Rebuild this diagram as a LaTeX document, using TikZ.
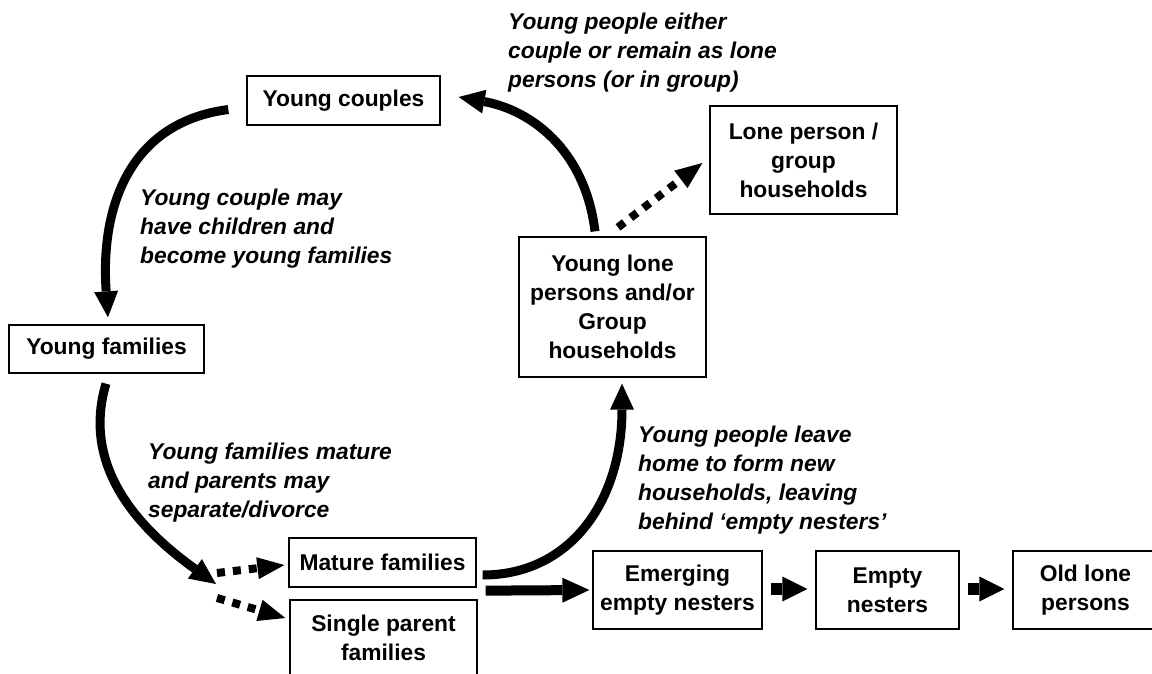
\documentclass[tikz,border=0pt]{standalone}
\usepackage{fontspec}
\setmainfont{Liberation Sans}
\usetikzlibrary{calc,arrows.meta}
\newcommand{\boxfont}{\bfseries\fontsize{22.8}{29}\selectfont}
\newcommand{\notefont}{\bfseries\itshape\fontsize{22.8}{29}\selectfont}

\begin{document}
\begin{tikzpicture}[x=1pt, y=-1pt,
  stage/.style={draw, line width=1.3pt, inner sep=0pt, align=center, font=\boxfont},
  note/.style={inner sep=0pt, align=left, anchor=west, font=\notefont},
  flow/.style={line width=9pt, -{Triangle[length=26pt,width=24pt,line width=0pt]}},
  maybe/.style={line width=8pt, dash pattern=on 8pt off 8pt, -{Triangle[length=27pt,width=22pt,line width=0pt]}},
  push/.style={line width=10pt, -{Triangle[length=27pt,width=25pt,line width=0pt]}},
  hop/.style={line width=12pt, -{Triangle[length=25pt,width=25pt,line width=0pt]}}]
\useasboundingbox (0,0) rectangle (1152,673);
\node[stage, minimum width=193pt, minimum height=49pt] (yc) at (343.5,100.5) {Young couples};
\node[stage, minimum width=187pt, minimum height=108pt] (lp) at (803.5,160) {Lone person /\\group\\households};
\node[stage, minimum width=187pt, minimum height=140pt] (yl) at (612.5,307) {Young lone\\persons and/or\\Group\\households};
\node[stage, minimum width=195pt, minimum height=48pt] (yf) at (106.5,349) {Young families};
\node[stage, minimum width=187pt, minimum height=49pt] (mf) at (382.5,562.5) {Mature families};
\node[stage, minimum width=187pt, minimum height=76pt] (sp) at (383.5,638) {Single parent\\families};
\node[stage, minimum width=169pt, minimum height=78pt] (ee) at (677.5,590) {Emerging\\empty nesters};
\node[stage, minimum width=143pt, minimum height=78pt] (en) at (887.5,590) {Empty\\nesters};
\node[stage, minimum width=145pt, minimum height=78pt] (ol) at (1085.5,590) {Old lone\\persons};
\node[note] (n1) at (508,52.5) {Young people either\\couple or remain as lone\\persons (or in group)};
\node[note] (n2) at (140,228.5) {Young couple may\\have children and\\become young families};
\node[note] (n3) at (148,483) {Young families mature\\and parents may\\separate/divorce};
\node[note] (n4) at (638,480) {Young people leave\\home to form new\\households, leaving\\behind ‘empty nesters’};
\coordinate (split) at (216,584);
\draw[flow] ($(yc.west)+(-18,9)$) .. controls +(-97,12.5) and +(-8,-113) .. ($(yf.north)+(1.5,-7)$);
\draw[flow] ($(yf.south)+(-0.5,10)$) .. controls +(-26,87) and +(-71,-51) .. (split);
\draw[maybe] ($(split)+(1,-11)$) -- ($(mf.west)+(-4,2.5)$);
\draw[maybe] ($(split)+(1,14)$) -- ($(sp.west)+(-4,-20)$);
\draw[flow] ($(mf.east)+(6,12.5)$) .. controls +(88,0) and +(0,117) .. ($(yl.south)+(9.5,6)$);
\draw[flow] ($(yl.north)+(-17.5,-5)$) .. controls +(-10,-82) and +(72,13) .. ($(yc.east)+(18,-3.5)$);
\draw[maybe] ($(yl.north)+(5.5,-9)$) -- ($(lp.west)+(-7,3)$);
\draw[push] ($(mf.south east)+(9,3)$) -- ($(ee.west)+(-3,0)$);
\draw[hop] ($(ee.east)+(8,-1)$) -- ($(en.west)+(-8,-1)$);
\draw[hop] ($(en.east)+(8,-1)$) -- ($(ol.west)+(-8,-1)$);
\end{tikzpicture}
\end{document}
